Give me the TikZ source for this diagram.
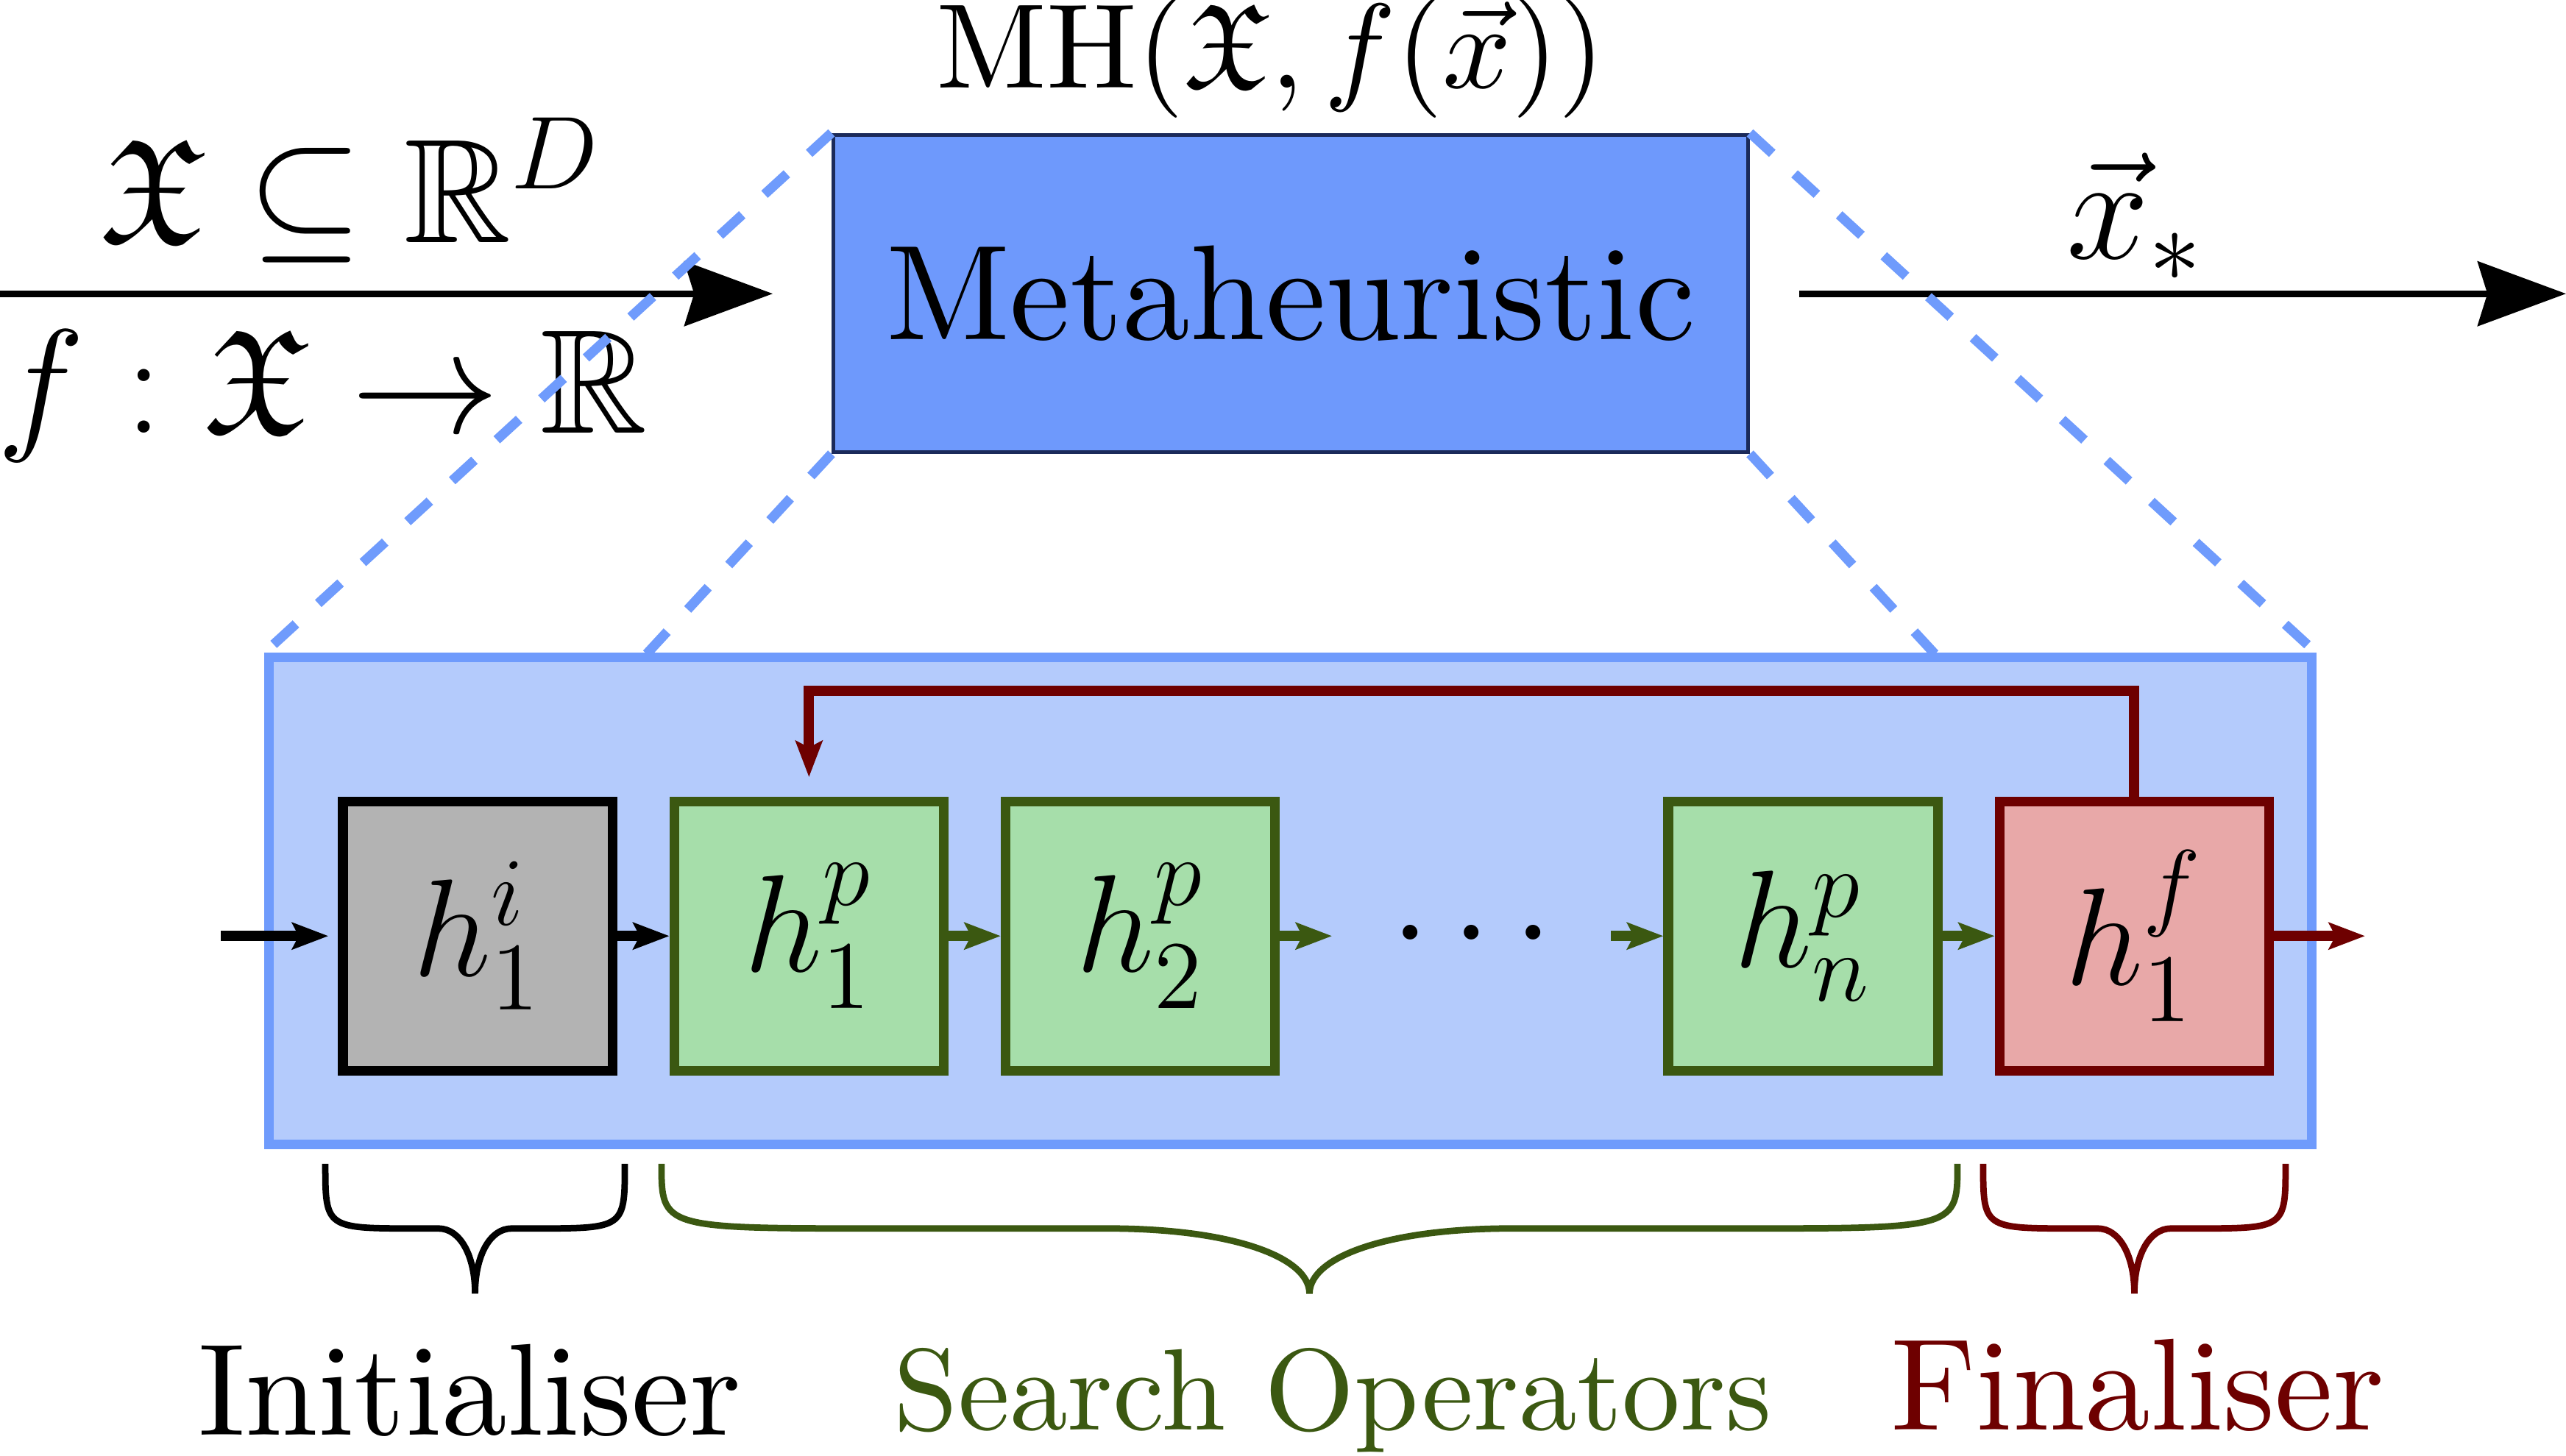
\RequirePackage{fix-cm}
\documentclass[tikz,border=0pt]{standalone}
\usepackage{amssymb}
\usetikzlibrary{arrows.meta,positioning}

\definecolor{mhcol}{HTML}{6E99FC}
\definecolor{mhedge}{HTML}{1B2A5A}
\definecolor{zoomfill}{HTML}{B4CBFC}
\definecolor{zoomcol}{HTML}{6F9BFC}
\definecolor{initfill}{HTML}{B3B3B3}
\definecolor{opfill}{HTML}{A6DEAA}
\definecolor{opcol}{HTML}{3B5811}
\definecolor{finfill}{HTML}{E8A8A8}
\definecolor{fincol}{HTML}{6E0000}

% brace under a group of boxes: colour, left, right, arm bend, tip bend
\newcommand{\bracetop}{1.594}
\newcommand{\braceshoulder}{1.241}
\newcommand{\bracetip}{0.885}
\newcommand{\groupbrace}[5]{%
  \pgfmathsetmacro{\bracemid}{(#2+#3)/2}
  \draw[#1,line width=1pt]
    (#2,\bracetop) .. controls (#2,\braceshoulder) and (#2,\braceshoulder) .. (#2+#4,\braceshoulder)
    -- (\bracemid-#5,\braceshoulder)
    .. controls (\bracemid-0.4*#5,\braceshoulder) and (\bracemid,\braceshoulder-0.15) .. (\bracemid,\bracetip)
    .. controls (\bracemid,\braceshoulder-0.15) and (\bracemid+0.4*#5,\braceshoulder) .. (\bracemid+#5,\braceshoulder)
    -- (#3-#4,\braceshoulder)
    .. controls (#3,\braceshoulder) and (#3,\braceshoulder) .. (#3,\bracetop);
}

\begin{document}
\begin{tikzpicture}[
   x=1cm,y=1cm,
   bigarrow/.style={-{Stealth[length=13.7pt,width=10pt,inset=1.5pt]},line width=1pt},
   smallarrow/.style={-{Stealth[length=5.6pt,width=4.1pt,inset=1pt]},line width=1.6pt},
   dashzoom/.style={zoomcol,line width=1.5pt,dash pattern=on 4.7pt off 4.7pt},
   hbox/.style={draw,line width=1.5pt,minimum size=1.47cm,inner sep=0pt,font=\fontsize{21.5}{26}\selectfont},
   initbox/.style={hbox,fill=initfill,draw=black},
   opbox/.style={hbox,fill=opfill,draw=opcol},
   finbox/.style={hbox,fill=finfill,draw=fincol},
   mathlabel/.style={font=\fontsize{23}{28}\selectfont,inner sep=0pt,anchor=base},
   grouplabel/.style={inner sep=0pt,anchor=base}
 ]
  \useasboundingbox (0,0) rectangle (14,7.945);

  % the black box
  \node[draw=mhedge,fill=mhcol,line width=0.6pt,minimum width=4.99cm,minimum height=1.73cm]
        (mh) at (7.042,6.344) {\scalebox{2.1}{Metaheuristic}};
  \node[grouplabel] (mhlabel) at (6.934,7.464)
        {\scalebox{1.87}{$\mathrm{MH}(\mathfrak{X}, f(\vec{x}))$}};

  \coordinate (in) at (0,6.342);
  \coordinate (inend) at (4.216,6.342);
  \draw[bigarrow] (in) -- (inend);
  \node[mathlabel] (space) at (1.913,6.621) {$\mathfrak{X} \subseteq \mathbb{R}^D$};
  \node[mathlabel] (obj) at (1.759,5.581) {$f : \mathfrak{X} \to \mathbb{R}$};

  \coordinate (outstart) at (9.817,6.342);
  \coordinate (outend) at (14,6.342);
  \draw[bigarrow] (outstart) -- (outend);
  \node[mathlabel] (best) at (11.651,6.532) {$\vec{x}_*$};

  % zoomed view
  \node[draw=zoomcol,fill=zoomfill,line width=1.5pt,minimum width=11.142cm,
        minimum height=2.658cm,inner sep=0pt] (zoom) at (7.04,3.027) {};
  \coordinate (zl) at (3.509,4.356);
  \coordinate (zr) at (10.575,4.356);
  \draw[dashzoom] (mh.north west) -- (zoom.north west);
  \draw[dashzoom] (mh.south west) -- (zl);
  \draw[dashzoom] (mh.south east) -- (zr);
  \draw[dashzoom] (mh.north east) -- (zoom.north east);

  \node[initbox] (hi) at (2.606,2.837) {$h^i_1$};
  \node[opbox,right=0.285cm of hi] (hp1) {$h^p_1$};
  \node[opbox,right=0.285cm of hp1] (hp2) {$h^p_2$};
  \node[hbox,draw=none,right=0.285cm of hp2] (dots) {$\cdots$};
  \node[opbox,right=0.285cm of dots] (hpn) {$h^p_n$};
  \node[finbox,right=0.285cm of hpn] (hf) {$h^f_1$};

  \coordinate (hstart) at (1.204,2.837);
  \coordinate (hend) at (12.904,2.837);
  \draw[smallarrow,shorten >=1.5pt] (hstart) -- (hi);
  \draw[smallarrow] (hi) -- (hp1);
  \draw[smallarrow,opcol] (hp1) -- (hp2);
  \draw[smallarrow,opcol] (hp2) -- (dots);
  \draw[smallarrow,opcol] (dots) -- (hpn);
  \draw[smallarrow,opcol] (hpn) -- (hf);
  \draw[smallarrow,fincol] (hf) -- (hend);
  \draw[smallarrow,fincol,shorten >=3pt] (hf.north) -- ++(0,0.575) -| (hp1.north);

  % braces and labels
  \groupbrace{black}{1.775}{3.409}{0.5}{0.2}
  \groupbrace{opcol}{3.609}{10.680}{1.2}{1.1}
  \groupbrace{fincol}{10.820}{12.470}{0.5}{0.2}
  \node[grouplabel] (initlabel) at (2.562,0.112) {\scalebox{2.03}{Initialiser}};
  \node[grouplabel,opcol] (oplabel) at (7.271,0.14) {\scalebox{1.8}{Search Operators}};
  \node[grouplabel,fincol] (finlabel) at (11.663,0.14) {\scalebox{2.03}{Finaliser}};
\end{tikzpicture}
\end{document}
